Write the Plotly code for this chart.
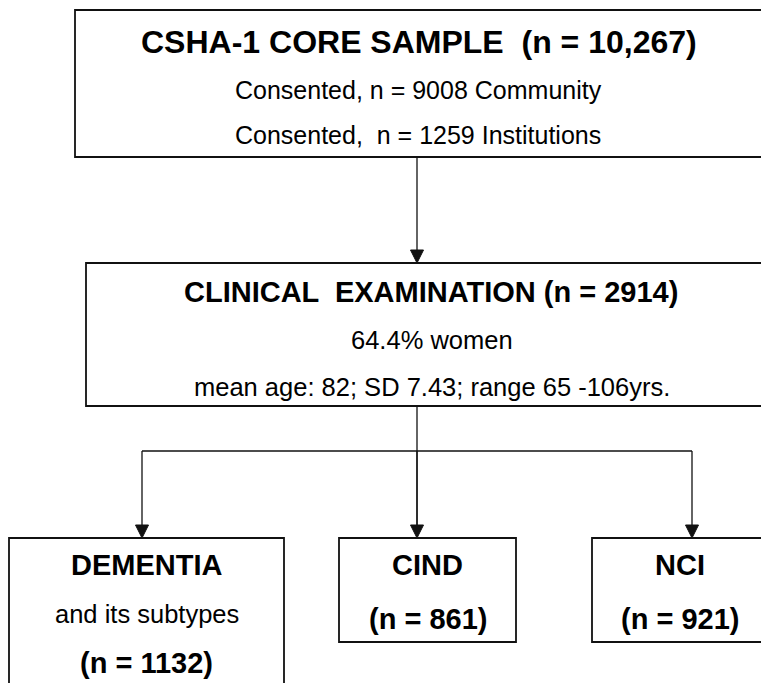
import plotly.graph_objects as go

# ---- data (values shown in the flowchart) ----
core_n = "10,267"
community_n = 9008
institution_n = 1259
clinical_n = 2914
women_pct = 64.4
mean_age = 82
age_sd = 7.43
age_range = (65, 106)
outcome_labels = ["DEMENTIA", "CIND", "NCI"]
outcome_sub = ["and its subtypes", "", ""]
outcome_n = [1132, 861, 921]

NB = "\u00a0"
FONT = "Liberation Sans, Arial, Helvetica, sans-serif"
INK = "#111111"

W, H = 769, 683
OFF = 8  # page body margin; axis ranges chosen so data units equal screen pixels
fig = go.Figure()

shapes = []
annots = []

def box(x0, y0, x1, y1, lw=1.8):
    shapes.append(dict(type="rect", xref="x", yref="y", x0=x0, y0=y0, x1=x1, y1=y1,
                       line=dict(color=INK, width=lw), fillcolor="rgba(0,0,0,0)", layer="above"))

def seg(x0, y0, x1, y1, lw=1.3):
    shapes.append(dict(type="line", xref="x", yref="y", x0=x0, y0=y0, x1=x1, y1=y1,
                       line=dict(color=INK, width=lw), layer="above"))

def head(x, ytip, w=6.5, h=13):
    shapes.append(dict(type="path", xref="x", yref="y",
                       path=f"M {x-w},{ytip-h} L {x+w},{ytip-h} L {x},{ytip} Z",
                       fillcolor=INK, line=dict(color=INK, width=1), layer="above"))

def text(x, y, s, size, bold=False):
    if bold:
        s = f"<b>{s}</b>"
    annots.append(dict(x=x, y=y, xref="x", yref="y", text=s, showarrow=False,
                       xanchor="center", yanchor="middle",
                       font=dict(family=FONT, size=size, color="#000000")))

# top box
box(75, 10, 768, 157)
text(419, 42, f"CSHA-1 CORE SAMPLE {NB}(n = {core_n})", 32, bold=True)
text(418, 90, f"Consented, n = {community_n} Community", 25)
text(418, 135, f"Consented, {NB}n = {institution_n} Institutions", 25)

# arrow to clinical
seg(417, 157, 417, 255)
head(417, 263)

# clinical box
box(86, 263, 768, 406)
text(431, 292, f"CLINICAL {NB}EXAMINATION (n = {clinical_n})", 29, bold=True)
text(432, 340, f"{women_pct}% women", 25.5)
text(432, 387, f"mean age: {mean_age}; SD {age_sd}; range {age_range[0]} -{age_range[1]}yrs.", 25.5)

# branching
xs = [142, 417, 692]
seg(417, 406, 417, 530)
seg(xs[0], 451, xs[2], 451)
for x in xs:
    seg(x, 451, x, 530)
    head(x, 538)

# outcome boxes
bx = [(9, 284, 700), (339, 516, 642), (592, 768, 642)]
for (x0, x1, y1), lab, sub, n in zip(bx, outcome_labels, outcome_sub, outcome_n):
    box(x0, 538, x1, y1)
    cx = (x0 + x1) / 2
    text(cx, 565, lab, 29, bold=True)
    if sub:
        text(cx, 614, sub, 25.5)
        text(cx, 663, f"(n = {n})", 29, bold=True)
    else:
        text(cx, 619, f"(n = {n})", 29, bold=True)

fig.update_layout(
    width=W, height=H,
    margin=dict(l=0, r=0, t=0, b=0),
    paper_bgcolor="white", plot_bgcolor="white",
    xaxis=dict(range=[OFF, W + OFF], visible=False, fixedrange=True),
    yaxis=dict(range=[H + OFF, OFF], visible=False, fixedrange=True),
    shapes=shapes, annotations=annots, showlegend=False,
)

fig.write_html("out.html")
